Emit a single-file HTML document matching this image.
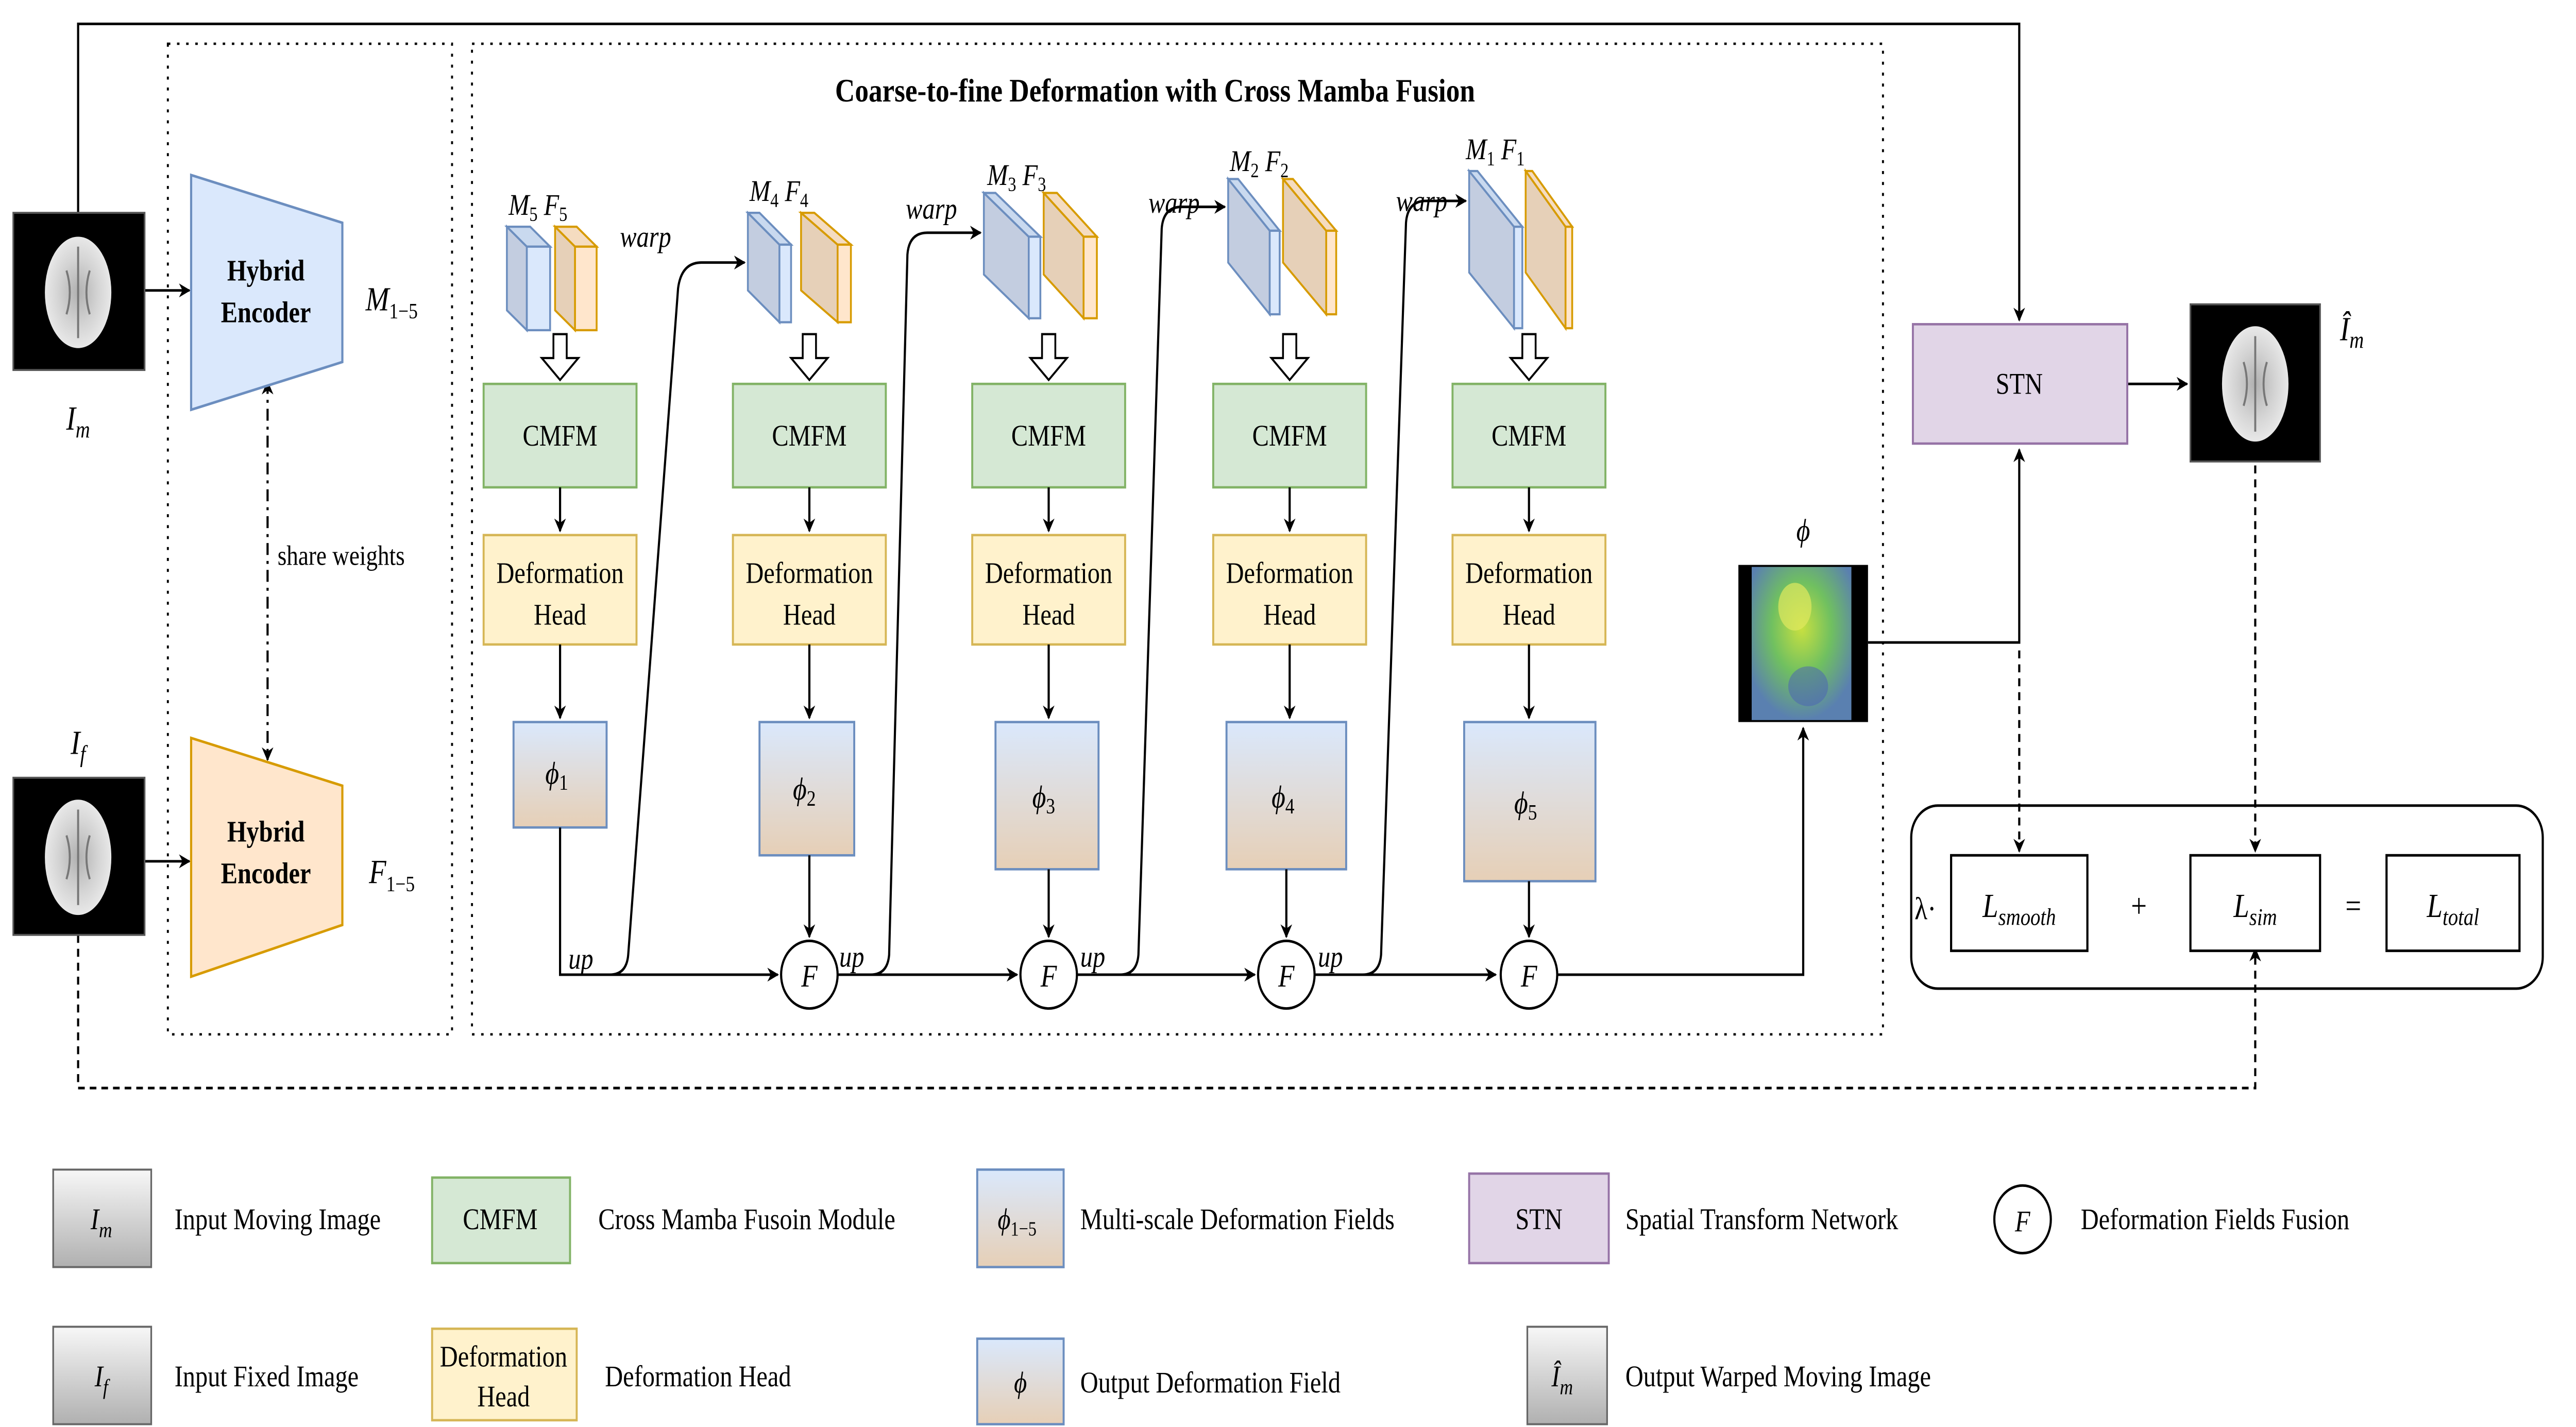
<!DOCTYPE html>
<html><head><meta charset="utf-8"><style>
html,body{margin:0;padding:0;background:#fff;overflow:hidden;width:100%;height:100%;}
svg{display:block;width:100vw;height:100vh;}
text{font-family:"Liberation Serif",serif;fill:#000;}
.m{font-style:italic;}
.b{font-weight:bold;}
</style></head><body>
<svg viewBox="0 0 1550 717.4" preserveAspectRatio="none" xmlns="http://www.w3.org/2000/svg">
<defs>
<marker id="a" viewBox="0 0 10 10" refX="9" refY="5" markerWidth="7" markerHeight="7" markerUnits="userSpaceOnUse" orient="auto"><path d="M0,0 L10,5 L0,10 L3,5 Z" fill="#000"/></marker>
<marker id="as" viewBox="0 0 10 10" refX="1" refY="5" markerWidth="7" markerHeight="7" markerUnits="userSpaceOnUse" orient="auto"><path d="M10,0 L0,5 L10,10 L7,5 Z" fill="#000"/></marker>
<linearGradient id="phi" x1="0" y1="0" x2="0" y2="1"><stop offset="0" stop-color="#dae8fc"/><stop offset="1" stop-color="#e6cfb6"/></linearGradient>
<linearGradient id="gray" x1="0" y1="0" x2="0" y2="1"><stop offset="0" stop-color="#f7f7f7"/><stop offset="1" stop-color="#b0b0b0"/></linearGradient>
<radialGradient id="brain" cx="0.5" cy="0.5" r="0.5"><stop offset="0" stop-color="#b0b0b0"/><stop offset="0.6" stop-color="#d4d4d4"/><stop offset="1" stop-color="#e8e8e8"/></radialGradient>
<radialGradient id="fld" cx="0.5" cy="0.4" r="0.6"><stop offset="0" stop-color="#c8e040"/><stop offset="0.5" stop-color="#70c060"/><stop offset="1" stop-color="#5a80b0"/></radialGradient>
</defs>
<g fill="none" stroke="#000" stroke-width="1.3">
<path d="M47 107 V12 H1215 V161" marker-end="url(#a)"/>
<path d="M87 146 H114" marker-end="url(#a)"/>
<path d="M87 433 H114" marker-end="url(#a)"/>
<path d="M47 470 V547 H1357 V477" stroke-dasharray="4 3" marker-end="url(#a)"/>
<path d="M161 192 V382" stroke-dasharray="6 3 1.5 3" marker-start="url(#as)" marker-end="url(#a)"/>
</g>
<rect x="101" y="22" width="171" height="498" fill="none" stroke="#000" stroke-width="1.2" stroke-dasharray="1.5 4"/>
<rect x="284" y="22" width="849" height="498" fill="none" stroke="#000" stroke-width="1.2" stroke-dasharray="1.5 4"/>
<text x="695" y="51" font-size="16.5" text-anchor="middle" class="b">Coarse-to-fine Deformation with Cross Mamba Fusion</text>

<rect x="8" y="107" width="79" height="79" fill="#000" stroke="#555" stroke-width="1"/>
<ellipse cx="47" cy="147" rx="20" ry="28" fill="url(#brain)"/>
<path d="M47 124 V170 M40 136 Q44 147 40 158 M54 136 Q50 147 54 158" stroke="#777" stroke-width="1.2" fill="none"/>
<rect x="8" y="391" width="79" height="79" fill="#000" stroke="#555" stroke-width="1"/>
<ellipse cx="47" cy="431" rx="20" ry="29" fill="url(#brain)"/>
<path d="M47 407 V455 M40 420 Q44 431 40 442 M54 420 Q50 431 54 442" stroke="#777" stroke-width="1.2" fill="none"/>
<text x="47" y="216" font-size="17" text-anchor="middle" class="m">I<tspan font-size="12" dy="4">m</tspan></text>
<text x="47" y="379" font-size="17" text-anchor="middle" class="m">I<tspan font-size="12" dy="4">f</tspan></text>

<polygon points="115,88 206,112 206,182 115,206" fill="#dae8fc" stroke="#6c8ebf" stroke-width="1.3"/>
<text x="160" y="141" font-size="15" text-anchor="middle" class="b">Hybrid</text>
<text x="160" y="162" font-size="15" text-anchor="middle" class="b">Encoder</text>
<polygon points="115,371 206,395 206,465 115,491" fill="#ffe6cc" stroke="#d79b00" stroke-width="1.3"/>
<text x="160" y="423" font-size="15" text-anchor="middle" class="b">Hybrid</text>
<text x="160" y="444" font-size="15" text-anchor="middle" class="b">Encoder</text>
<text x="220" y="156" font-size="17" class="m">M<tspan font-size="11" dy="4" font-style="normal">1−5</tspan></text>
<text x="222" y="444" font-size="17" class="m">F<tspan font-size="11" dy="4" font-style="normal">1−5</tspan></text>
<text x="167" y="284" font-size="14">share weights</text>

<g stroke="#6c8ebf" stroke-width="1.1">
<polygon points="305,114 317,124 317,166 305,156" fill="#c3cde0"/><polygon points="305,114 319,114 331,124 317,124" fill="#c9d9ef"/><rect x="317" y="124" width="14" height="42" fill="#dae8fc"/>
<polygon points="450,107 469,123 469,162 450,146" fill="#c3cde0"/><polygon points="450,107 457,107 476,123 469,123" fill="#c9d9ef"/><rect x="469" y="123" width="7" height="39" fill="#dae8fc"/>
<polygon points="592,97 619,119 619,160 592,138" fill="#c3cde0"/><polygon points="592,97 599,97 626,119 619,119" fill="#c9d9ef"/><rect x="619" y="119" width="7" height="41" fill="#dae8fc"/>
<polygon points="739,90 764,116 764,158 739,132" fill="#c3cde0"/><polygon points="739,90 745,90 770,116 764,116" fill="#c9d9ef"/><rect x="764" y="116" width="6" height="42" fill="#dae8fc"/>
<polygon points="884,86 911,114 911,165 884,137" fill="#c3cde0"/><polygon points="884,86 889,86 916,114 911,114" fill="#c9d9ef"/><rect x="911" y="114" width="5" height="51" fill="#dae8fc"/>
</g>
<g stroke="#d79b00" stroke-width="1.1">
<polygon points="334,114 346,124 346,166 334,156" fill="#e6d0b8"/><polygon points="334,114 347,114 359,124 346,124" fill="#f5dcc0"/><rect x="346" y="124" width="13" height="42" fill="#ffe6cc"/>
<polygon points="482,107 504,123 504,162 482,146" fill="#e6d0b8"/><polygon points="482,107 490,107 512,123 504,123" fill="#f5dcc0"/><rect x="504" y="123" width="8" height="39" fill="#ffe6cc"/>
<polygon points="628,97 652,119 652,160 628,138" fill="#e6d0b8"/><polygon points="628,97 636,97 660,119 652,119" fill="#f5dcc0"/><rect x="652" y="119" width="8" height="41" fill="#ffe6cc"/>
<polygon points="772,90 798,116 798,158 772,132" fill="#e6d0b8"/><polygon points="772,90 778,90 804,116 798,116" fill="#f5dcc0"/><rect x="798" y="116" width="6" height="42" fill="#ffe6cc"/>
<polygon points="918,86 942,114 942,165 918,137" fill="#e6d0b8"/><polygon points="918,86 922,86 946,114 942,114" fill="#f5dcc0"/><rect x="942" y="114" width="4" height="51" fill="#ffe6cc"/>
</g>
<g font-size="15" class="m">
<text x="306" y="108">M<tspan font-size="10" dy="3" font-style="normal">5</tspan><tspan dy="-3"> F</tspan><tspan font-size="10" dy="3" font-style="normal">5</tspan></text>
<text x="451" y="101">M<tspan font-size="10" dy="3" font-style="normal">4</tspan><tspan dy="-3"> F</tspan><tspan font-size="10" dy="3" font-style="normal">4</tspan></text>
<text x="594" y="93">M<tspan font-size="10" dy="3" font-style="normal">3</tspan><tspan dy="-3"> F</tspan><tspan font-size="10" dy="3" font-style="normal">3</tspan></text>
<text x="740" y="86">M<tspan font-size="10" dy="3" font-style="normal">2</tspan><tspan dy="-3"> F</tspan><tspan font-size="10" dy="3" font-style="normal">2</tspan></text>
<text x="882" y="80">M<tspan font-size="10" dy="3" font-style="normal">1</tspan><tspan dy="-3"> F</tspan><tspan font-size="10" dy="3" font-style="normal">1</tspan></text>
<text x="373" y="124">warp</text><text x="545" y="110">warp</text><text x="691" y="107">warp</text><text x="840" y="106">warp</text>
<text x="342" y="487">up</text><text x="505" y="486">up</text><text x="650" y="486">up</text><text x="793" y="486">up</text>
</g>

<g fill="#fff" stroke="#000" stroke-width="1.1">
<polygon points="333,168 341,168 341,180 348,180 337,191 326,180 333,180"/>
<polygon points="483,168 491,168 491,180 498,180 487,191 476,180 483,180"/>
<polygon points="627,168 635,168 635,180 642,180 631,191 620,180 627,180"/>
<polygon points="772,168 780,168 780,180 787,180 776,191 765,180 772,180"/>
<polygon points="916,168 924,168 924,180 931,180 920,191 909,180 916,180"/>
</g>

<g stroke="#82b366" stroke-width="1.2" fill="#d5e8d4">
<rect x="291" y="193" width="92" height="52"/><rect x="441" y="193" width="92" height="52"/><rect x="585" y="193" width="92" height="52"/><rect x="730" y="193" width="92" height="52"/><rect x="874" y="193" width="92" height="52"/>
</g>
<g stroke="#d6b656" stroke-width="1.2" fill="#fff2cc">
<rect x="291" y="269" width="92" height="55"/><rect x="441" y="269" width="92" height="55"/><rect x="585" y="269" width="92" height="55"/><rect x="730" y="269" width="92" height="55"/><rect x="874" y="269" width="92" height="55"/>
</g>
<g font-size="15" text-anchor="middle">
<text x="337" y="224">CMFM</text><text x="487" y="224">CMFM</text><text x="631" y="224">CMFM</text><text x="776" y="224">CMFM</text><text x="920" y="224">CMFM</text>
<text x="337" y="293">Deformation</text><text x="337" y="314">Head</text>
<text x="487" y="293">Deformation</text><text x="487" y="314">Head</text>
<text x="631" y="293">Deformation</text><text x="631" y="314">Head</text>
<text x="776" y="293">Deformation</text><text x="776" y="314">Head</text>
<text x="920" y="293">Deformation</text><text x="920" y="314">Head</text>
</g>
<g stroke="#6c8ebf" stroke-width="1.2" fill="url(#phi)">
<rect x="309" y="363" width="56" height="53"/><rect x="457" y="363" width="57" height="67"/><rect x="599" y="363" width="62" height="74"/><rect x="738" y="363" width="72" height="74"/><rect x="881" y="363" width="79" height="80"/>
</g>
<g font-size="16" class="m" text-anchor="middle">
<text x="335" y="394">ϕ<tspan font-size="11" dy="3" font-style="normal">1</tspan></text>
<text x="484" y="402">ϕ<tspan font-size="11" dy="3" font-style="normal">2</tspan></text>
<text x="628" y="406">ϕ<tspan font-size="11" dy="3" font-style="normal">3</tspan></text>
<text x="772" y="406">ϕ<tspan font-size="11" dy="3" font-style="normal">4</tspan></text>
<text x="918" y="409">ϕ<tspan font-size="11" dy="3" font-style="normal">5</tspan></text>
</g>

<g fill="none" stroke="#000" stroke-width="1.3">
<path d="M337 245 V267" marker-end="url(#a)"/><path d="M487 245 V267" marker-end="url(#a)"/><path d="M631 245 V267" marker-end="url(#a)"/><path d="M776 245 V267" marker-end="url(#a)"/><path d="M920 245 V267" marker-end="url(#a)"/>
<path d="M337 324 V361" marker-end="url(#a)"/><path d="M487 324 V361" marker-end="url(#a)"/><path d="M631 324 V361" marker-end="url(#a)"/><path d="M776 324 V361" marker-end="url(#a)"/><path d="M920 324 V361" marker-end="url(#a)"/>
<path d="M487 430 V471" marker-end="url(#a)"/><path d="M631 437 V471" marker-end="url(#a)"/><path d="M774 437 V471" marker-end="url(#a)"/><path d="M920 443 V471" marker-end="url(#a)"/>
<path d="M337 416 V490 H468" marker-end="url(#a)"/>
<path d="M504 490 H612" marker-end="url(#a)"/>
<path d="M648 490 H755" marker-end="url(#a)"/>
<path d="M791 490 H900" marker-end="url(#a)"/>
<path d="M937 490 H1085 V366" marker-end="url(#a)"/>
<path d="M360 490 H367 Q377 490 378 480 L408 145 Q410 132 422 132 H448" marker-end="url(#a)"/>
<path d="M518 490 H524 Q534 490 535 480 L546 128 Q547 117 558 117 H590" marker-end="url(#a)"/>
<path d="M662 490 H674 Q684 490 685 480 L699 115 Q700 104 711 104 H737" marker-end="url(#a)"/>
<path d="M805 490 H820 Q830 490 831 480 L846 112 Q847 101 858 101 H882" marker-end="url(#a)"/>
<path d="M1124 323 H1215 V226" marker-end="url(#a)"/>
<path d="M1280 193 H1316" marker-end="url(#a)"/>
<path d="M1215 327 V428" stroke-dasharray="4 3" marker-end="url(#a)"/>
<path d="M1357 234 V428" stroke-dasharray="4 3" marker-end="url(#a)"/>
</g>
<g fill="#fff" stroke="#000" stroke-width="1.3">
<circle cx="487" cy="490" r="17"/><circle cx="631" cy="490" r="17"/><circle cx="774" cy="490" r="17"/><circle cx="920" cy="490" r="17"/>
</g>
<g font-size="16" class="m" text-anchor="middle">
<text x="487" y="496">F</text><text x="631" y="496">F</text><text x="774" y="496">F</text><text x="920" y="496">F</text>
</g>

<rect x="1046" y="284" width="78" height="79" fill="#000"/>
<rect x="1054" y="285" width="60" height="77" fill="url(#fld)"/>
<ellipse cx="1080" cy="305" rx="10" ry="12" fill="#e0e860" opacity="0.7"/>
<ellipse cx="1088" cy="345" rx="12" ry="10" fill="#4a60b8" opacity="0.5"/>
<text x="1085" y="272" font-size="16" class="m" text-anchor="middle">ϕ</text>

<rect x="1151" y="163" width="129" height="60" fill="#e1d5e7" stroke="#9673a6" stroke-width="1.2"/>
<text x="1215" y="198" font-size="15" text-anchor="middle">STN</text>
<rect x="1318" y="153" width="78" height="79" fill="#000" stroke="#555" stroke-width="1"/>
<ellipse cx="1357" cy="193" rx="20" ry="29" fill="url(#brain)"/>
<path d="M1357 169 V217 M1350 182 Q1354 193 1350 204 M1364 182 Q1360 193 1364 204" stroke="#777" stroke-width="1.2" fill="none"/>
<text x="1408" y="171" font-size="17" class="m">Î<tspan font-size="12" dy="4">m</tspan></text>

<rect x="1150" y="405" width="380" height="92" rx="16" fill="none" stroke="#000" stroke-width="1.3"/>
<g fill="#fff" stroke="#000" stroke-width="1.3">
<rect x="1174" y="430" width="82" height="48"/><rect x="1318" y="430" width="78" height="48"/><rect x="1436" y="430" width="80" height="48"/>
</g>
<text x="1152" y="462" font-size="16">λ·</text>
<text x="1215" y="461" font-size="17" class="m" text-anchor="middle">L<tspan font-size="12" dy="4">smooth</tspan></text>
<text x="1287" y="461" font-size="17" text-anchor="middle">+</text>
<text x="1357" y="461" font-size="17" class="m" text-anchor="middle">L<tspan font-size="12" dy="4">sim</tspan></text>
<text x="1416" y="461" font-size="17" text-anchor="middle">=</text>
<text x="1476" y="461" font-size="17" class="m" text-anchor="middle">L<tspan font-size="12" dy="4">total</tspan></text>

<g stroke="#666" stroke-width="1" fill="url(#gray)">
<rect x="32" y="588" width="59" height="49"/><rect x="32" y="667" width="59" height="49"/><rect x="919" y="667" width="48" height="49"/>
</g>
<rect x="260" y="592" width="83" height="43" fill="#d5e8d4" stroke="#82b366" stroke-width="1.2"/>
<rect x="260" y="668" width="87" height="46" fill="#fff2cc" stroke="#d6b656" stroke-width="1.2"/>
<rect x="588" y="588" width="52" height="49" fill="url(#phi)" stroke="#6c8ebf" stroke-width="1.2"/>
<rect x="588" y="673" width="52" height="43" fill="url(#phi)" stroke="#6c8ebf" stroke-width="1.2"/>
<rect x="884" y="590" width="84" height="45" fill="#e1d5e7" stroke="#9673a6" stroke-width="1.2"/>
<circle cx="1217" cy="613" r="17" fill="#fff" stroke="#000" stroke-width="1.3"/>
<g font-size="15">
<text x="61" y="618" text-anchor="middle" class="m">I<tspan font-size="11" dy="4">m</tspan></text>
<text x="61" y="697" text-anchor="middle" class="m">I<tspan font-size="11" dy="4">f</tspan></text>
<text x="940" y="697" text-anchor="middle" class="m">Î<tspan font-size="11" dy="4">m</tspan></text>
<text x="105" y="618">Input Moving Image</text>
<text x="105" y="697">Input Fixed Image</text>
<text x="301" y="618" text-anchor="middle">CMFM</text>
<text x="303" y="687" text-anchor="middle">Deformation</text>
<text x="303" y="707" text-anchor="middle">Head</text>
<text x="360" y="618">Cross Mamba Fusoin Module</text>
<text x="364" y="697">Deformation Head</text>
<text x="612" y="618" text-anchor="middle" class="m">ϕ<tspan font-size="10" dy="3" font-style="normal">1−5</tspan></text>
<text x="614" y="700" text-anchor="middle" class="m">ϕ</text>
<text x="650" y="618">Multi-scale Deformation Fields</text>
<text x="650" y="700">Output Deformation Field</text>
<text x="926" y="618" text-anchor="middle">STN</text>
<text x="978" y="618">Spatial Transform Network</text>
<text x="1217" y="619" text-anchor="middle" class="m">F</text>
<text x="1252" y="618">Deformation Fields Fusion</text>
<text x="978" y="697">Output Warped Moving Image</text>
</g>
</svg>
</body></html>
